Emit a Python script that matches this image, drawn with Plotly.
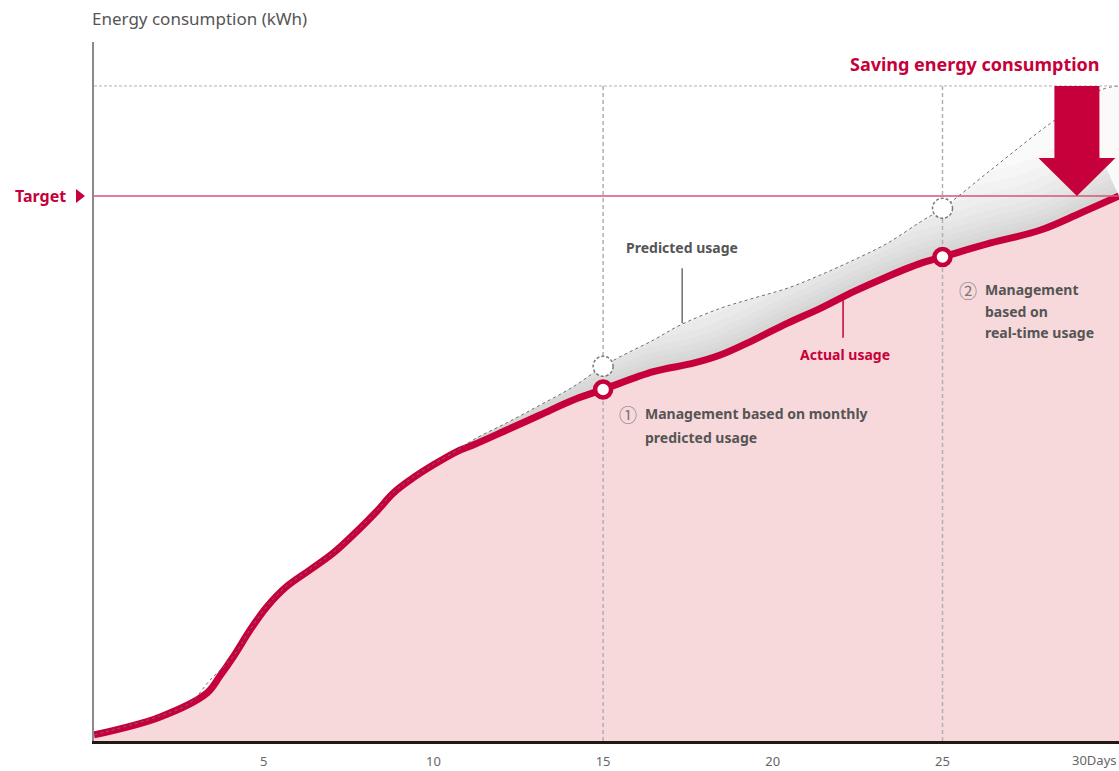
import plotly.graph_objects as go

# ---------------- data ----------------
days_actual = [0, 1.93, 3.33, 3.71, 4.10, 4.60, 5.09, 5.67, 6.36, 7.04, 7.73, 8.32, 8.81,
               9.31, 9.99, 10.68, 11.17, 12.16, 13.14, 14.12, 15, 16.48, 17.66, 18.45,
               19.43, 20.42, 21.40, 22.38, 23.37, 24.35, 25, 26.42, 27.89, 29.07, 30.2]
actual_usage = [0.9, 3.5, 7.05, 9.54, 12.33, 16.29, 19.67, 22.65, 25.1, 27.55, 30.7, 33.65, 36.35,
                38.3, 40.5, 42.45, 43.45, 45.65, 47.85, 50.05, 51.6, 54.2, 55.45, 56.65,
                58.85, 61.3, 63.5, 65.95, 68.15, 70.1, 71.05, 73.1, 75.0, 77.5, 80.0]

days_predicted = [0, 1.93, 2.83, 3.42, 4.10, 4.60, 5.09, 5.67, 6.36, 7.04, 7.73, 8.32, 8.81,
                  9.31, 9.99, 10.68, 11.17, 12.16, 13.14, 14.12, 15, 15.50, 16.48, 17.27,
                  18.45, 19.43, 20.42, 21.40, 22.38, 23.37, 24.35, 25, 26.42, 28.19, 29.66, 30.2]
predicted_usage = [0.9, 3.65, 5.6, 8.95, 12.4, 16.35, 19.75, 22.75, 25.2, 27.65, 30.8, 33.75, 36.45,
                   38.4, 40.6, 42.6, 44.2, 46.7, 49.3, 52.0, 55.0, 56.4, 58.85, 61.05,
                   63.5, 65.0, 66.45, 68.4, 70.6, 73.05, 76.2, 78.2, 83.8, 90.7, 95.55, 96.15]

check_days = [15, 25]
check_actual = [51.6, 71.05]
check_predicted = [55.0, 78.2]

TARGET = 80.0
TOP_LINE = 96.15
Y_MAX = 102.6
X_MAX = 30.2

tick_vals = [5, 10, 15, 20, 25]
tick_text = ["5", "10", "15", "20", "25"]
last_tick_text = "30Days"

# ---------------- style ----------------
RED = "#C6003A"
PINK = "#F7D9DB"
GRAY_TXT = "#555555"
FONT = "Noto Sans"
SM = 1.0

fig = go.Figure()

# soft shadow along the actual line (gradient inside the saving band)
shadow_pts = [(d, v) for d, v in zip(days_actual, actual_usage) if d >= 10.6]
for w in [140, 118, 98, 80, 64, 50, 38, 27, 17]:
    fig.add_trace(go.Scatter(
        x=[p[0] for p in shadow_pts], y=[p[1] for p in shadow_pts], mode="lines",
        line=dict(color="rgba(0,0,0,0.017)", width=w, shape="spline", smoothing=SM),
        hoverinfo="skip"))

# white area above the predicted line (clips the shadow)
fig.add_trace(go.Scatter(x=[0, X_MAX], y=[Y_MAX, Y_MAX], mode="lines",
                         line=dict(width=0, color="white"), hoverinfo="skip"))
fig.add_trace(go.Scatter(x=days_predicted, y=predicted_usage, mode="lines", fill="tonexty",
                         fillcolor="white",
                         line=dict(width=0, color="white", shape="spline", smoothing=SM),
                         hoverinfo="skip"))

# actual usage with pink area
fig.add_trace(go.Scatter(
    x=days_actual, y=actual_usage, mode="lines", fill="tozeroy", fillcolor=PINK,
    line=dict(color=RED, width=7, shape="spline", smoothing=SM),
    hoverinfo="skip"))

# predicted usage, light band down to actual
fig.add_trace(go.Scatter(
    x=days_predicted, y=predicted_usage, mode="lines", fill="tonexty",
    fillcolor="rgba(0,0,0,0.02)",
    line=dict(color="#6E6E6E", width=1, dash="dot", shape="spline", smoothing=SM),
    hoverinfo="skip"))

# vertical dashed reference lines at check days
for d in check_days:
    fig.add_trace(go.Scatter(
        x=[d, d], y=[0, TOP_LINE], mode="lines",
        line=dict(color="#B0B0B0", width=1.5, dash="4px,3px"), hoverinfo="skip"))

# solid check markers on actual
fig.add_trace(go.Scatter(
    x=check_days, y=check_actual, mode="markers",
    marker=dict(size=16, color="white", line=dict(color=RED, width=4.5)),
    hoverinfo="skip"))

shapes = []
shapes.append(dict(type="line", xref="paper", x0=0, x1=1, yref="y", y0=TOP_LINE, y1=TOP_LINE,
                   line=dict(color="#B0B0B0", width=1, dash="3px,2px")))
shapes.append(dict(type="line", xref="paper", x0=0, x1=1, yref="y", y0=TARGET, y1=TARGET,
                   line=dict(color="#D4567A", width=1.5)))
for d, p in zip(check_days, check_predicted):
    shapes.append(dict(type="circle", xref="x", yref="y", xsizemode="pixel", ysizemode="pixel",
                       xanchor=d, yanchor=p, x0=-10, x1=10, y0=-10, y1=10,
                       fillcolor="white", line=dict(color="#7A7A7A", width=1.5, dash="3px,2px")))
# target triangle
shapes.append(dict(type="path", xref="paper", yref="paper", xsizemode="pixel", ysizemode="pixel",
                   xanchor=0, yanchor=TARGET / Y_MAX, path="M -18 -7 L -18 7 L -9 0 Z",
                   fillcolor=RED, line=dict(width=0)))
# leader lines
shapes.append(dict(type="line", xref="x", yref="y", x0=17.33, x1=17.33, y0=61.3, y1=69.4,
                   line=dict(color="#6E6E6E", width=1.5)))
shapes.append(dict(type="line", xref="x", yref="y", x0=22.07, x1=22.07, y0=59.2, y1=65.0,
                   line=dict(color=RED, width=1.5)))
# saving arrow
ax = 28.96
sh, hh = 0.663, 1.134
head_base = 85.58
shapes.append(dict(type="path", xref="x", yref="y",
                   path=(f"M {ax-sh} {TOP_LINE} L {ax+sh} {TOP_LINE} L {ax+sh} {head_base} "
                         f"L {ax+hh} {head_base} L {ax} {TARGET} L {ax-hh} {head_base} "
                         f"L {ax-sh} {head_base} Z"),
                   fillcolor=RED, line=dict(width=0)))

ann = []
ann.append(dict(xref="paper", yref="paper", x=-0.004, y=1.034, xanchor="left", yanchor="middle",
                text="Energy consumption (kWh)", showarrow=False,
                font=dict(size=17, color=GRAY_TXT, family=FONT)))
ann.append(dict(xref="paper", yref="y", x=0, y=TARGET, xshift=-26, xanchor="right",
                yanchor="middle", text="<b>Target</b>", showarrow=False,
                font=dict(size=16, color=RED, family=FONT)))
ann.append(dict(xref="x", yref="y", x=25.96, y=99.4, xanchor="center", yanchor="middle",
                text="<b>Saving energy consumption</b>", showarrow=False,
                font=dict(size=18, color=RED, family=FONT)))
ann.append(dict(xref="x", yref="y", x=17.32, y=72.4, xanchor="center", yanchor="middle",
                text="<b>Predicted usage</b>", showarrow=False,
                font=dict(size=14, color=GRAY_TXT, family=FONT)))
ann.append(dict(xref="x", yref="y", x=22.13, y=56.66, xanchor="center", yanchor="middle",
                text="<b>Actual usage</b>", showarrow=False,
                font=dict(size=14, color=RED, family=FONT)))
# note 1
ann.append(dict(xref="x", yref="y", x=15.73, y=48.0, xanchor="center", yanchor="middle",
                text="①", showarrow=False,
                font=dict(size=18, color="#777777", family="Noto Sans CJK KR")))
for txt, yy in [("Management based on monthly", 48.0), ("predicted usage", 44.62)]:
    ann.append(dict(xref="x", yref="y", x=16.18, y=yy, xanchor="left", yanchor="middle",
                    text=f"<b>{txt}</b>", showarrow=False,
                    font=dict(size=14, color=GRAY_TXT, family=FONT)))
# note 2
ann.append(dict(xref="x", yref="y", x=25.75, y=66.2, xanchor="center", yanchor="middle",
                text="②", showarrow=False,
                font=dict(size=18, color="#777777", family="Noto Sans CJK KR")))
for txt, yy in [("Management", 66.2), ("based on", 62.97), ("real-time usage", 59.89)]:
    ann.append(dict(xref="x", yref="y", x=26.19, y=yy, xanchor="left", yanchor="middle",
                    text=f"<b>{txt}</b>", showarrow=False,
                    font=dict(size=14, color=GRAY_TXT, family=FONT)))
# last x label (kept fully inside the page)
ann.append(dict(xref="paper", yref="paper", x=1, y=0, yshift=-19, xanchor="right",
                yanchor="middle", text=last_tick_text, showarrow=False,
                font=dict(size=13, color="#666666", family=FONT)))

fig.update_layout(
    width=1119, height=771,
    margin=dict(l=94, r=0, t=42, b=30, autoexpand=False),
    paper_bgcolor="white", plot_bgcolor="white",
    showlegend=False,
    font=dict(family=FONT),
    shapes=shapes, annotations=ann,
    xaxis=dict(range=[0, X_MAX], showgrid=False, zeroline=False, showline=True,
               linecolor="#231815", linewidth=3, ticks="", tickvals=tick_vals,
               ticktext=tick_text, tickfont=dict(size=13, color="#666666", family=FONT),
               ticklabelstandoff=6, automargin=False, fixedrange=True),
    yaxis=dict(range=[0, Y_MAX], showgrid=False, zeroline=False, showline=True,
               linecolor="#8A8A8A", linewidth=2, showticklabels=False, ticks="",
               automargin=False, fixedrange=True),
)

fig.write_html("out.html", config={"displayModeBar": False},
               post_script="document.body.style.margin='0';")
